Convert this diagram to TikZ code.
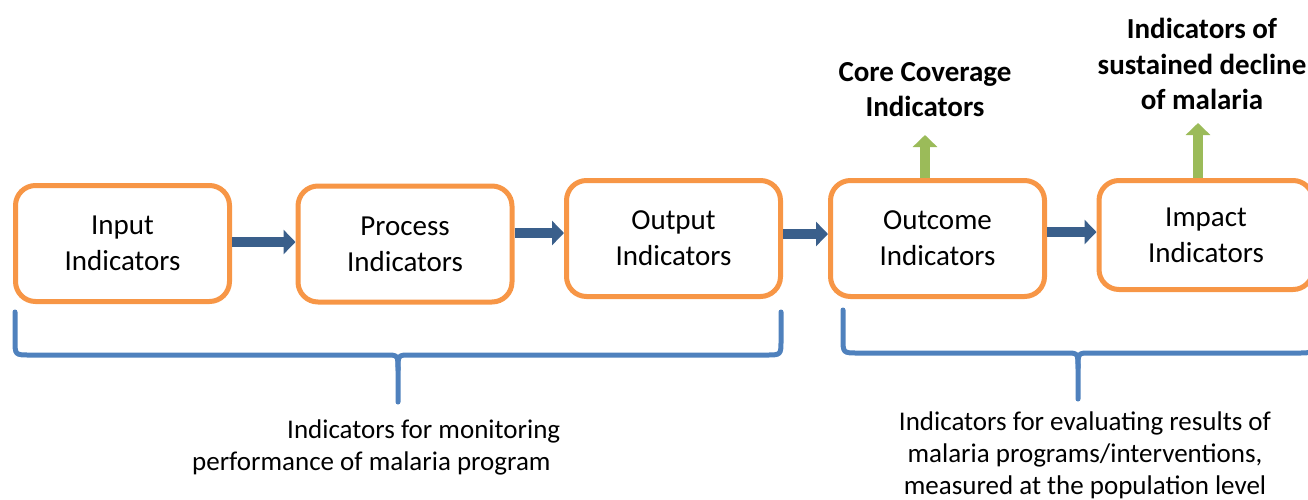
\documentclass[tikz,border=0pt]{standalone}
\usepackage{fontspec}
\setmainfont{Carlito}
\usetikzlibrary{arrows.meta,positioning}

\definecolor{boxorange}{HTML}{F79646}
\definecolor{flowblue}{HTML}{3A5F8B}
\definecolor{upgreen}{HTML}{9BBB59}
\definecolor{braceblue}{HTML}{4F81BD}

\tikzset{
  indbox/.style={draw=boxorange,line width=5pt,rounded corners=20pt,fill=white,
    minimum width=214pt,minimum height=116pt,align=center,inner sep=0pt,
    font=\fontsize{29}{36}\selectfont},
  flow/.style={draw=flowblue,line width=10pt,-{Triangle[length=12pt,width=24pt]}},
  upflow/.style={draw=upgreen,line width=10pt,-{Triangle[length=12pt,width=24pt]}},
  brace/.style={draw=braceblue,line width=5pt,line cap=round,line join=round},
  toplabel/.style={align=center,inner sep=0pt,font=\fontsize{29}{35.5}\selectfont\bfseries},
  bottomlabel/.style={inner sep=0pt,font=\fontsize{27}{32}\selectfont}
}

\begin{document}
\begin{tikzpicture}[x=1pt,y=-1pt]
    \useasboundingbox (0,0) rectangle (1308,499);

    % boxes
    \node[indbox] (in) at (122.5,243.5) {Input\\Indicators};
    \node[indbox] (pr) at (405,244) {Process\\Indicators};
    \node[indbox] (out) at (673.5,238.5) {Output\\Indicators};
    \node[indbox] (oc) at (937.5,238.5) {Outcome\\Indicators};
    \node[indbox,minimum height=109pt] (im) at (1206,235) {Impact\\Indicators};

    % flow arrows
    \draw[flow] ([yshift=1.5pt]in.east) -- ([yshift=1.5pt]in.east -| pr.west);
    \draw[flow] ([yshift=11pt]pr.east) -- ([yshift=11pt]pr.east -| out.west);
    \draw[flow] ([yshift=4.5pt]out.east) -- ([yshift=4.5pt]out.east -| oc.west);
    \draw[flow] ([yshift=6.5pt]oc.east) -- ([yshift=6.5pt]oc.east -| im.west);

    % labels on top
    \node[toplabel] (cov) at (925,89.5) {Core Coverage\\Indicators};
    \node[toplabel] (dec) at (1202,64) {Indicators of\\sustained decline\\of malaria};

    \coordinate (covtip) at (925,135);
    \coordinate (dectip) at (1198,123);
    \draw[upflow] (oc.north -| covtip) -- (covtip);
    \draw[upflow] (im.north -| dectip) -- (dectip);

    % braces
    \draw[brace] (15,312) -- (15,340) .. controls (15,355) .. (30,355) -- (386,355)
      .. controls (398,355) .. (398,370) -- (398,402);
    \draw[brace] (781,312) -- (781,340) .. controls (781,355) .. (766,355) -- (410,355)
      .. controls (398,355) .. (398,370);
    \draw[brace] (843,310) -- (843,338) .. controls (843,353) .. (858,353) -- (1066,353)
      .. controls (1078,353) .. (1078,368) -- (1078,399);
    \draw[brace] (1313,310) -- (1313,338) .. controls (1313,353) .. (1298,353) -- (1090,353)
      .. controls (1078,353) .. (1078,368);

    % labels below
    \node[bottomlabel,align=left,anchor=west] (mon) at (192,447.5)
      {\hspace*{95pt}Indicators for monitoring\\performance of malaria program};
    \node[bottomlabel,align=center] (eval) at (1085,455)
      {Indicators for evaluating results of\\malaria programs/interventions,\\measured at the population level};
\end{tikzpicture}
\end{document}
